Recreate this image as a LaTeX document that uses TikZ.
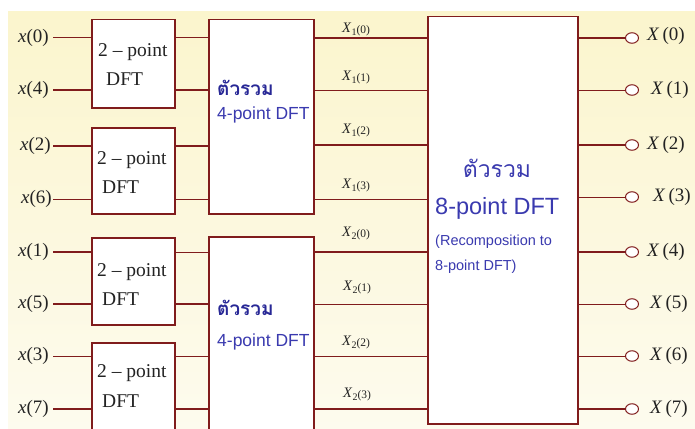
\documentclass[tikz,border=0pt]{standalone}
\usepackage{fontspec}
\usetikzlibrary{shapes.geometric}
\setmainfont{Liberation Serif}
\newfontfamily\arialf{Liberation Sans}
\newfontfamily\thaif[Script=Thai]{Loma}
\definecolor{wire}{RGB}{128,28,28}
\definecolor{bgtop}{RGB}{251,245,205}
\definecolor{bgbot}{RGB}{253,251,238}
\definecolor{tblue}{RGB}{58,58,175}
\definecolor{tbold}{RGB}{40,40,150}
\definecolor{txt}{RGB}{35,35,35}
\tikzset{
  blk/.style={draw=wire, line width=1.5pt, fill=white, rectangle, inner sep=0pt},
  thinw/.style={draw=wire, line width=1pt},
  thickw/.style={draw=wire, line width=2pt},
  lbl/.style={inner sep=0pt, text=txt, font=\fontsize{19}{19}\selectfont},
  sub/.style={inner sep=0pt, text=txt, anchor=west, font=\fontsize{14.5}{14.5}\selectfont},
  two/.style={inner sep=0pt, text=txt, anchor=west, font=\fontsize{19.5}{19.5}\selectfont},
  thb/.style={inner sep=0pt, text=tbold, anchor=west, font=\thaif\bfseries\fontsize{19}{19}\selectfont},
  four/.style={inner sep=0pt, text=tblue, anchor=west, font=\arialf\fontsize{17.5}{17.5}\selectfont},
  small/.style={inner sep=0pt, text=tblue, anchor=west, font=\arialf\fontsize{14.5}{14.5}\selectfont},
  outc/.style={ellipse, draw=wire, line width=1pt, fill=white, minimum width=13pt, minimum height=10.5pt, inner sep=0pt}
}
\newcommand{\Xsub}[2]{\textit{X}\raisebox{-3pt}{\fontsize{10}{10}\selectfont #1}\raisebox{-1pt}{\fontsize{11.5}{11.5}\selectfont(#2)}}
\begin{document}
\begin{tikzpicture}[x=1pt,y=-1pt]
\useasboundingbox (0,0) rectangle (695,428);
\clip (0,0) rectangle (695,428);
\shade[top color=bgtop, bottom color=bgbot] (8,12) rectangle (695,428);

% boxes
\node[blk, minimum width=83pt, minimum height=88pt, anchor=north west] (d1) at (91,19) {};
\node[blk, minimum width=83pt, minimum height=86pt, anchor=north west] (d2) at (91,127) {};
\node[blk, minimum width=83pt, minimum height=87pt, anchor=north west] (d3) at (91,237) {};
\node[blk, minimum width=83pt, minimum height=95pt, anchor=north west] (d4) at (91,342) {};
\node[blk, minimum width=105pt, minimum height=194pt, anchor=north west] (f1) at (208,19) {};
\node[blk, minimum width=105pt, minimum height=200pt, anchor=north west] (f2) at (208,236) {};
\node[blk, minimum width=150pt, minimum height=407pt, anchor=north west] (e8) at (427,16) {};

% input labels
\node[lbl, anchor=east] (x0) at (49,38) {\textit{x}(0)};
\node[lbl, anchor=east] (x4) at (49,90) {\textit{x}(4)};
\node[lbl, anchor=east] (x2) at (51,146) {\textit{x}(2)};
\node[lbl, anchor=east] (x6) at (52,199) {\textit{x}(6)};
\node[lbl, anchor=east] (x1) at (49,252) {\textit{x}(1)};
\node[lbl, anchor=east] (x5) at (49,304) {\textit{x}(5)};
\node[lbl, anchor=east] (x3) at (49,356) {\textit{x}(3)};
\node[lbl, anchor=east] (x7) at (49,409) {\textit{x}(7)};

% input wires
\draw[thinw]  (x0.east) ++(4,0) coordinate (a0) -- (a0 -| d1.west);
\draw[thickw] (x4.east) ++(4,0) coordinate (a4) -- (a4 -| d1.west);
\draw[thickw] (x2.east) ++(2,0) coordinate (a2) -- (a2 -| d2.west);
\draw[thinw]  (x6.east) ++(1,0) coordinate (a6) -- (a6 -| d2.west);
\draw[thickw] (x1.east) ++(4,0) coordinate (a1) -- (a1 -| d3.west);
\draw[thickw] (x5.east) ++(4,0) coordinate (a5) -- (a5 -| d3.west);
\draw[thinw]  (x3.east) ++(4,0) coordinate (a3) -- (a3 -| d4.west);
\draw[thickw] (x7.east) ++(4,0) coordinate (a7) -- (a7 -| d4.west);

% 2-point to 4-point wires
\draw[thinw]  (d1.east |- a0) -- (f1.west |- a0);
\draw[thickw] (d1.east |- a4) -- (f1.west |- a4);
\draw[thickw] (d2.east |- a2) -- (f1.west |- a2);
\draw[thinw]  (d2.east |- a6) -- (f1.west |- a6);
\draw[thinw]  (d3.east |- a1) -- (f2.west |- a1);
\draw[thickw] (d3.east |- a5) -- (f2.west |- a5);
\draw[thinw]  (d4.east |- a3) -- (f2.west |- a3);
\draw[thickw] (d4.east |- a7) -- (f2.west |- a7);

% 2-point texts
\node[two] (t1a) at (98,52) {2 – point};
\node[two] (t1b) at (106,79) {DFT};
\node[two] (t2a) at (97,160) {2 – point};
\node[two] (t2b) at (102,187) {DFT};
\node[two] (t3a) at (97,272) {2 – point};
\node[two] (t3b) at (102,299) {DFT};
\node[two] (t4a) at (97,373) {2 – point};
\node[two] (t4b) at (102,401) {DFT};

% 4-point texts
\node[thb] (g1a) at (217,88) {ตัวรวม};
\node[four] (g1b) at (217,115) {4-point DFT};
\node[thb] (g2a) at (217,308) {ตัวรวม};
\node[four] (g2b) at (217,342) {4-point DFT};

% X1 / X2 wires
\coordinate (c0) at (0,38);  \coordinate (c1) at (0,90);
\coordinate (c2) at (0,145); \coordinate (c3) at (0,199);
\coordinate (c4) at (0,252); \coordinate (c5) at (0,304);
\coordinate (c6) at (0,356); \coordinate (c7) at (0,409);
\draw[thickw] (f1.east |- c0) -- (e8.west |- c0);
\draw[thinw]  (f1.east |- c1) -- (e8.west |- c1);
\draw[thickw] (f1.east |- c2) -- (e8.west |- c2);
\draw[thinw]  (f1.east |- c3) -- (e8.west |- c3);
\draw[thickw] (f2.east |- c4) -- (e8.west |- c4);
\draw[thinw]  (f2.east |- c5) -- (e8.west |- c5);
\draw[thinw]  (f2.east |- c6) -- (e8.west |- c6);
\draw[thickw] (f2.east |- c7) -- (e8.west |- c7);

\node[sub] (s0) at (342,29) {\Xsub{1}{0}};
\node[sub] (s1) at (342,77) {\Xsub{1}{1}};
\node[sub] (s2) at (342,130) {\Xsub{1}{2}};
\node[sub] (s3) at (342,185) {\Xsub{1}{3}};
\node[sub] (s4) at (342,233) {\Xsub{2}{0}};
\node[sub] (s5) at (343,287) {\Xsub{2}{1}};
\node[sub] (s6) at (342,342) {\Xsub{2}{2}};
\node[sub] (s7) at (343,394) {\Xsub{2}{3}};

% 8-point texts
\node[inner sep=0pt, text=tblue, font=\thaif\fontsize{23}{23}\selectfont] (h1) at (497,168) {ตัวรวม};
\node[inner sep=0pt, text=tblue, anchor=west, font=\arialf\fontsize{23.5}{23.5}\selectfont] (h2) at (435,208) {8-point DFT};
\node[small] (h3) at (435,242) {(Recomposition to};
\node[small] (h4) at (435,267) {8-point DFT)};

% outputs
\node[outc] (o0) at (632,38) {};
\node[outc] (o1) at (632,90) {};
\node[outc] (o2) at (632,145) {};
\node[outc] (o3) at (632,197) {};
\node[outc] (o4) at (632,252) {};
\node[outc] (o5) at (632,304) {};
\node[outc] (o6) at (632,356) {};
\node[outc] (o7) at (632,409) {};
\draw[thickw] (e8.east |- o0) -- (o0.west);
\draw[thinw]  (e8.east |- o1) -- (o1.west);
\draw[thickw] (e8.east |- o2) -- (o2.west);
\draw[thinw]  (e8.east |- o3) -- (o3.west);
\draw[thickw] (e8.east |- o4) -- (o4.west);
\draw[thinw]  (e8.east |- o5) -- (o5.west);
\draw[thinw]  (e8.east |- o6) -- (o6.west);
\draw[thickw] (e8.east |- o7) -- (o7.west);

\node[lbl, anchor=west] (y0) at (647,36) {\textit{X}\,(0)};
\node[lbl, anchor=west] (y1) at (651,90) {\textit{X}\,(1)};
\node[lbl, anchor=west] (y2) at (647,145) {\textit{X}\,(2)};
\node[lbl, anchor=west] (y3) at (653,197) {\textit{X}\,(3)};
\node[lbl, anchor=west] (y4) at (647,252) {\textit{X}\,(4)};
\node[lbl, anchor=west] (y5) at (650,304) {\textit{X}\,(5)};
\node[lbl, anchor=west] (y6) at (650,356) {\textit{X}\,(6)};
\node[lbl, anchor=west] (y7) at (650,409) {\textit{X}\,(7)};
\end{tikzpicture}
\end{document}
